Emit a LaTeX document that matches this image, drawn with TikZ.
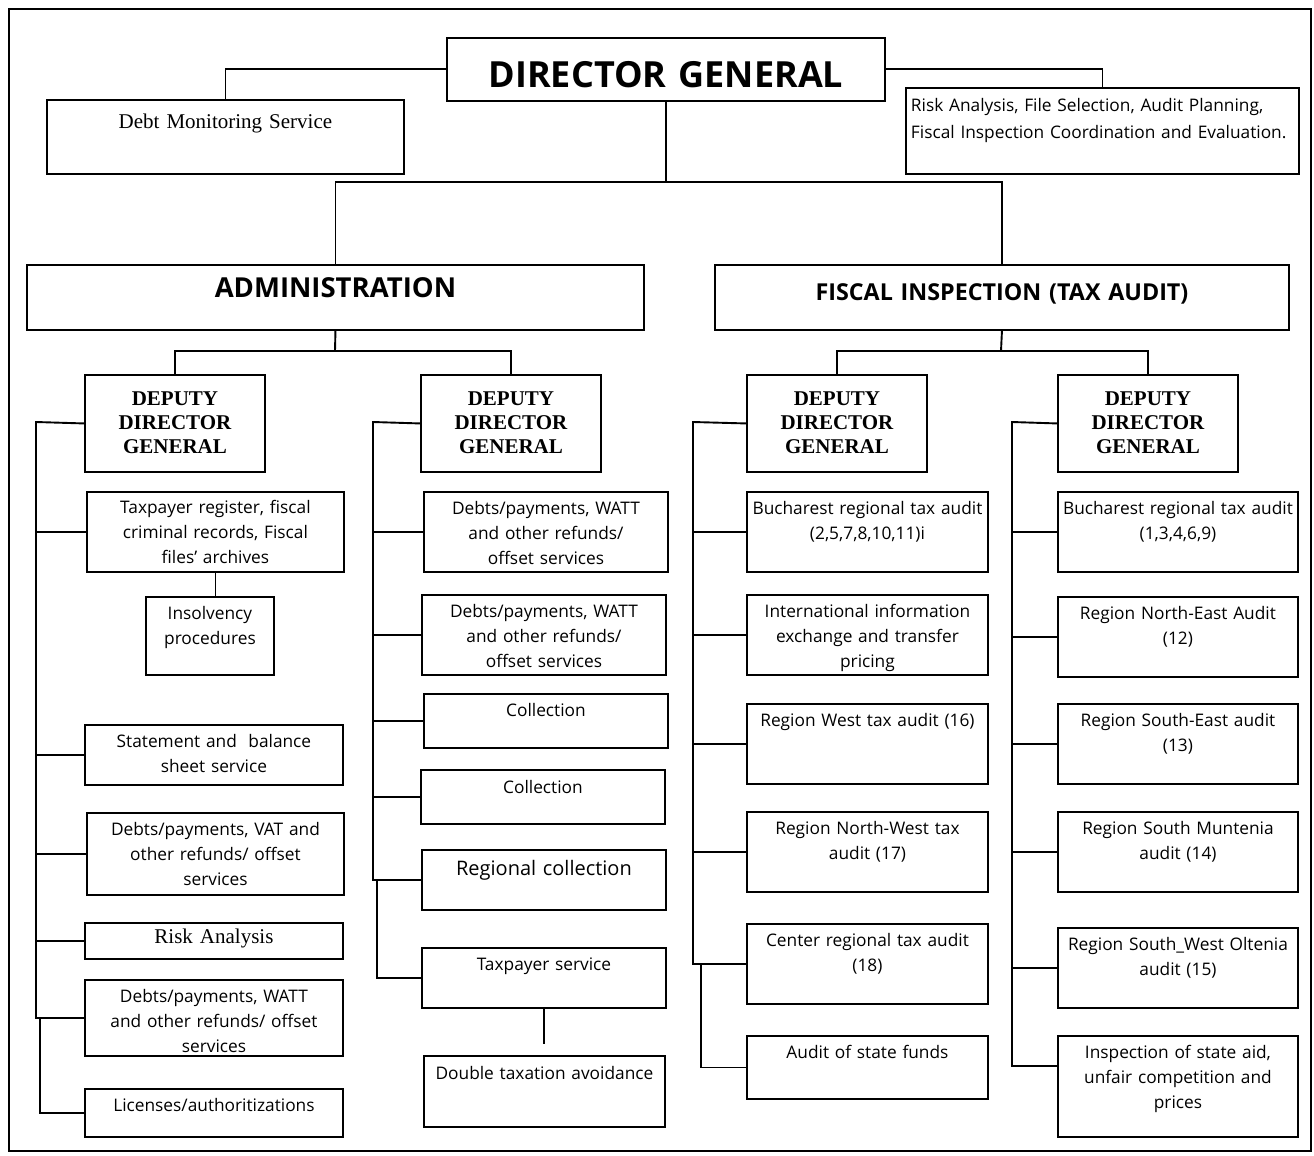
\documentclass[tikz,border=0pt]{standalone}
\usepackage{fontspec}
\setmainfont{Liberation Serif}
\newfontfamily\osans{Open Sans}
\usepackage{tikz}

\begin{document}
\begin{tikzpicture}[x=1pt,y=-1pt,line width=1.9pt,
        box/.style={draw,anchor=north west,inner sep=0pt,align=center,font=\osans\fontsize{17.3}{25}\selectfont},
        sz/.style n args={3}{text width=#1pt,text height=#2pt,text depth=#3pt},
        serif/.style={font=\rmfamily\fontsize{21}{24}\selectfont},
        deputy/.style={box,sz={180}{31}{66},font=\rmfamily\bfseries\fontsize{21}{24}\selectfont}]
        \useasboundingbox (0,0) rectangle (1314,1156);
        \draw (9,9) rectangle (1311,1151);
        \node[box,sz={438}{50}{13},font=\osans\bfseries\fontsize{36}{40}\selectfont] (dg) at (446,37) {DIRECTOR GENERAL};
        \node[box,serif,sz={357}{29}{45}] (debt) at (46,99) {Debt Monitoring Service};
        \node[box,align=left,inner xsep=5pt,sz={383}{24}{62},font=\osans\fontsize{17.3}{27}\selectfont] (risk) at (905,87) {Risk Analysis, File Selection, Audit Planning,\\ Fiscal Inspection Coordination and Evaluation.};
        \node[box,sz={617}{33}{32},font=\osans\bfseries\fontsize{27.5}{30}\selectfont] (adm) at (26,264) {ADMINISTRATION};
        \node[box,sz={574}{36}{29},font=\osans\bfseries\fontsize{23.3}{28}\selectfont] (fisc) at (714,264) {FISCAL INSPECTION (TAX AUDIT)};
        \draw (dg.west) -| (debt.north);
        \draw (dg.east) -| (risk.north);
        \coordinate (j0) at (664,182);
        \draw (dg.south) -- (dg.south |- j0);
        \draw (adm.north) |- (j0) -| (fisc.north);
        \node[deputy] (dep1) at (84,374) {DEPUTY\\ DIRECTOR\\ GENERAL};
        \node[deputy] (dep2) at (420,374) {DEPUTY\\ DIRECTOR\\ GENERAL};
        \node[deputy] (dep3) at (746,374) {DEPUTY\\ DIRECTOR\\ GENERAL};
        \node[deputy] (dep4) at (1057,374) {DEPUTY\\ DIRECTOR\\ GENERAL};
        \coordinate (j1) at (335,351);
        \coordinate (j2) at (1001,351);
        \draw (adm.south) -- (j1);
        \draw (dep1.north) |- (j1) -| (dep2.north);
        \draw (fisc.south) -- (j2);
        \draw (dep3.north) |- (j2) -| (dep4.north);
        \node[box,sz={257}{22}{58}] (taxreg) at (86,491) {Taxpayer register, fiscal\\ criminal records, Fiscal\\ files’ archives};
        \node[box,sz={128}{23}{55}] (insolv) at (145,596) {Insolvency\\ procedures};
        \node[box,sz={258}{23}{37}] (stmt) at (84,724) {Statement and\ \ balance\\ sheet service};
        \node[box,sz={257}{23}{59}] (vat) at (86,812) {Debts/payments, VAT and\\ other refunds/ offset\\ services};
        \node[box,serif,sz={258}{21}{15}] (riskan) at (84,922) {Risk Analysis};
        \node[box,sz={258}{23}{53}] (watt) at (84,979) {Debts/payments, WATT\\ and other refunds/ offset\\ services};
        \node[box,sz={258}{23}{25}] (lic) at (84,1088) {Licenses/authoritizations};
        \draw (taxreg.south) -- (taxreg.south |- insolv.north);
        \coordinate (b1) at (36,422);
        \coordinate (b1b) at (40,1017);
        \draw (dep1.west) -- (b1) -- (b1 |- watt.west) -- (watt.west);
        \foreach \n in {taxreg,stmt,vat,riskan}
            \draw (\n.west) -- (\n.west -| b1);
        \draw (b1b) |- (lic.west);
        \node[box,sz={244}{23}{57}] (d1) at (423,491) {Debts/payments, WATT\\ and other refunds/\\ offset services};
        \node[box,sz={244}{23}{57}] (d2) at (421,594) {Debts/payments, WATT\\ and other refunds/\\ offset services};
        \node[box,sz={244}{23}{31}] (coll1) at (423,693) {Collection};
        \node[box,sz={244}{24}{30}] (coll2) at (420,769) {Collection};
        \node[box,sz={244}{26}{34},font=\osans\fontsize{20}{25}\selectfont] (regcoll) at (421,849) {Regional collection};
        \node[box,sz={244}{23}{37}] (taxsvc) at (421,947) {Taxpayer service};
        \node[box,sz={241}{24}{47}] (dbl) at (423,1055) {Double taxation avoidance};
        \coordinate (b2) at (373,422);
        \coordinate (b2b) at (377,879);
        \draw (dep2.west) -- (b2) -- (b2 |- regcoll.west) -- (regcoll.west);
        \foreach \n in {d1,d2,coll1,coll2}
            \draw (\n.west) -- (\n.west -| b2);
        \draw (b2b) |- (taxsvc.west);
        \coordinate (dblgap) at ([yshift=11pt]dbl.north);
        \draw (taxsvc.south) -- (taxsvc.south |- dblgap);
        \node[box,sz={241}{23}{57}] (buc1) at (746,491) {Bucharest regional tax audit\\ (2,5,7,8,10,11)i};
        \node[box,sz={241}{23}{57}] (intl) at (746,594) {International information\\ exchange and transfer\\ pricing};
        \node[box,sz={241}{23}{57}] (rwest) at (746,703) {Region West tax audit (16)};
        \node[box,sz={241}{23}{57}] (nw) at (746,811) {Region North-West tax\\ audit (17)};
        \node[box,sz={241}{23}{57}] (ctr) at (746,923) {Center regional tax audit\\ (18)};
        \node[box,sz={241}{23}{40}] (funds) at (746,1035) {Audit of state funds};
        \coordinate (b3) at (693,422);
        \coordinate (b3b) at (701,963);
        \draw (dep3.west) -- (b3) -- (b3 |- ctr.west) -- (ctr.west);
        \foreach \n in {buc1,intl,rwest,nw}
            \draw (\n.west) -- (\n.west -| b3);
        \draw (b3b) |- (funds.west);
        \node[box,sz={240}{23}{57}] (buc2) at (1057,491) {Bucharest regional tax audit\\ (1,3,4,6,9)};
        \node[box,sz={240}{23}{57}] (ne) at (1057,596) {Region North-East Audit\\ (12)};
        \node[box,sz={240}{23}{57}] (se) at (1057,703) {Region South-East audit\\ (13)};
        \node[box,sz={240}{23}{57}] (mun) at (1057,811) {Region South Muntenia\\ audit (14)};
        \node[box,sz={240}{23}{57}] (olt) at (1057,927) {Region South\_West Oltenia\\ audit (15)};
        \node[box,sz={240}{23}{78}] (insp) at (1057,1035) {Inspection of state aid,\\ unfair competition and\\ prices};
        \coordinate (b4) at (1012,422);
        \coordinate (inspin) at ([yshift=-31pt]insp.north west);
        \draw (dep4.west) -- (b4) |- (inspin);
        \foreach \n in {buc2,ne,se,mun,olt}
            \draw (\n.west) -- (\n.west -| b4);
    \end{tikzpicture}
\end{document}
